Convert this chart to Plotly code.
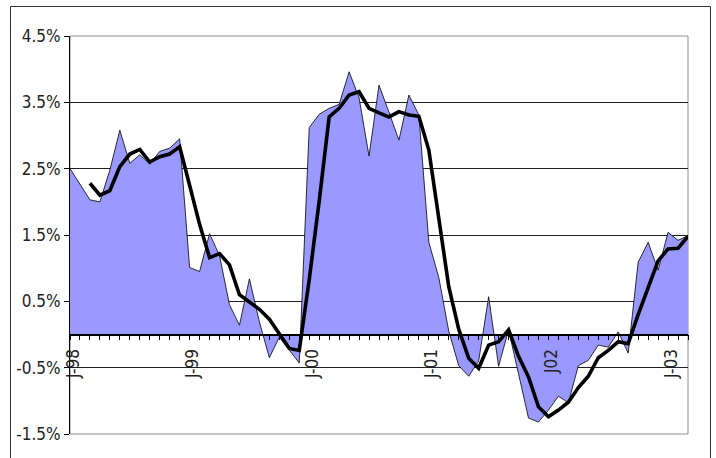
import pandas as pd
import plotly.graph_objects as go

# Monthly observations, Jan 1998 - Mar 2003 (percent)
months = [d.strftime("%Y-%m") for d in pd.date_range("1998-01-01", "2003-03-01", freq="MS")]

growth = [
    2.50, 2.27, 2.03, 2.00, 2.48, 3.08, 2.58, 2.71, 2.57, 2.76, 2.81, 2.95,   # 1998
    1.01, 0.95, 1.52, 1.19, 0.45, 0.14, 0.84, 0.19, -0.35, -0.04, -0.24, -0.43,  # 1999
    3.12, 3.32, 3.41, 3.47, 3.96, 3.57, 2.69, 3.76, 3.35, 2.93, 3.61, 3.31,  # 2000
    1.39, 0.86, 0.05, -0.47, -0.63, -0.40, 0.57, -0.48, 0.07, -0.62, -1.26, -1.32,  # 2001
    -1.14, -0.93, -1.03, -0.47, -0.39, -0.16, -0.19, 0.04, -0.28, 1.09, 1.39, 0.97,  # 2002
    1.54, 1.42, 1.49,  # 2003
]

moving_avg = [
    None, None, 2.28, 2.10, 2.17, 2.53, 2.72, 2.79, 2.60, 2.68, 2.72, 2.83,
    2.25, 1.66, 1.16, 1.22, 1.05, 0.60, 0.49, 0.38, 0.23, 0.00, -0.21, -0.24,
    0.83, 2.01, 3.28, 3.41, 3.61, 3.66, 3.41, 3.34, 3.28, 3.36, 3.31, 3.29,
    2.78, 1.75, 0.72, 0.08, -0.36, -0.51, -0.16, -0.11, 0.07, -0.33, -0.64, -1.09,
    -1.24, -1.14, -1.02, -0.80, -0.63, -0.35, -0.24, -0.11, -0.14, 0.30, 0.72, 1.11,
    1.29, 1.30, 1.48,
]

year_ticks = {"1998-01": "J-98", "1999-01": "J-99", "2000-01": "J-00",
              "2001-01": "J-01", "2002-01": "J02", "2003-01": "J-03"}
tick_text = [year_ticks.get(m, "") for m in months]

y_ticks = [-1.5, -0.5, 0.5, 1.5, 2.5, 3.5, 4.5]
y_min, y_max = -1.5, 4.5

FONT = "Liberation Sans Narrow, Arial Narrow, DejaVu Sans Condensed, sans-serif"
FONT_SIZE = 17

fig = go.Figure()
fig.add_trace(go.Scatter(
    x=months, y=growth, mode="lines", fill="tozeroy",
    fillcolor="#9999FF", line=dict(color="#000000", width=0.8),
    hoverinfo="skip", showlegend=False,
))
fig.add_trace(go.Scatter(
    x=months, y=moving_avg, mode="lines",
    line=dict(color="#000000", width=3.6),
    connectgaps=False, hoverinfo="skip", showlegend=False,
))

W, H = 716, 458
L, R, T, B = 70, 28, 36, 24
pw, ph = W - L - R, H - T - B

def px_x(p):
    return (p - L) / pw

def px_y(p):
    return (H - B - p) / ph

zero_pos = (0 - y_min) / (y_max - y_min)

fig.update_layout(
    width=W, height=H,
    margin=dict(l=L, r=R, t=T, b=B, pad=0),
    paper_bgcolor="white", plot_bgcolor="white",
    font=dict(family=FONT, size=FONT_SIZE, color="#222222"),
    xaxis=dict(
        type="category", range=[0, len(months) - 1],
        tickmode="array", tickvals=months, ticktext=tick_text,
        tickangle=-90, ticks="outside", ticklen=5, tickwidth=1, tickcolor="#000000",
        showline=True, linecolor="#000000", linewidth=1.5,
        showgrid=False, zeroline=False,
        anchor="free", position=zero_pos,
        ticklabelstandoff=2, ticklabelshift=3,
        tickfont=dict(family=FONT, size=FONT_SIZE, color="#222222"),
    ),
    yaxis=dict(
        range=[y_min, y_max], tickvals=y_ticks,
        ticktext=[f"{v:.1f}%" for v in y_ticks],
        ticks="outside", ticklen=5, tickwidth=1, tickcolor="#000000",
        showline=True, linecolor="#000000", linewidth=1,
        showgrid=True, gridcolor="#202020", gridwidth=1,
        zeroline=False,
        tickfont=dict(family=FONT, size=FONT_SIZE, color="#222222"),
    ),
    shapes=[
        # plot-area frame
        dict(type="rect", xref="paper", yref="paper", x0=0, x1=1, y0=0, y1=1,
             line=dict(color="#8c8c8c", width=1), layer="below"),
        # outer chart frame
        dict(type="rect", xref="paper", yref="paper",
             x0=px_x(10.5), x1=px_x(710.5), y0=px_y(470), y1=px_y(6.5),
             line=dict(color="#333333", width=1), fillcolor="rgba(0,0,0,0)", layer="below"),
    ],
)

fig.write_html("out.html")
